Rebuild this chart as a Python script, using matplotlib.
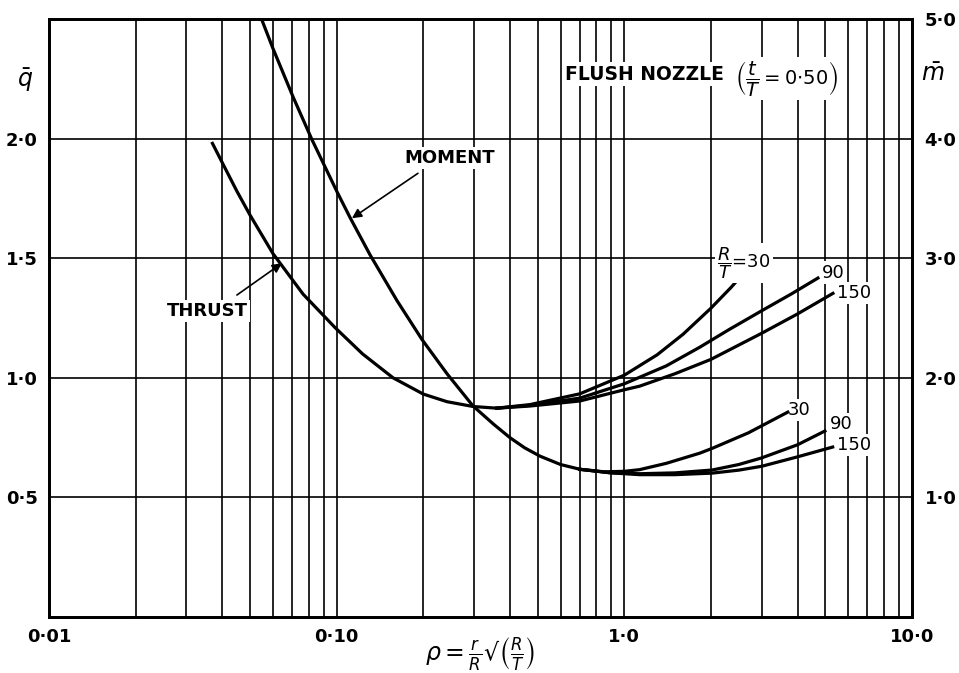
import matplotlib
matplotlib.use("Agg")
import matplotlib.pyplot as plt
from matplotlib.ticker import FixedLocator, NullFormatter

plt.rcParams['font.family'] = ['DejaVu Sans']
plt.rcParams['mathtext.fontset'] = 'dejavusans'

# thrust curve (q-bar, left axis): common part, then the three R/T branches
thrust_rho = [0.037, 0.040, 0.045, 0.050, 0.060, 0.0764, 0.0987, 0.123, 0.157, 0.200, 0.242, 0.298, 0.36]
thrust_q = [1.98, 1.90, 1.78, 1.68, 1.52, 1.35, 1.21, 1.10, 1.00, 0.932, 0.900, 0.880, 0.873]

thrust_30_rho = [0.36, 0.47, 0.70, 1.0, 1.3, 1.6, 2.0, 2.35, 2.73]
thrust_30_q = [0.873, 0.888, 0.933, 1.011, 1.096, 1.182, 1.291, 1.378, 1.466]
thrust_90_rho = [0.36, 0.47, 0.70, 1.0, 1.4, 1.83, 2.3, 3.0, 3.8, 4.71]
thrust_90_q = [0.873, 0.885, 0.915, 0.975, 1.05, 1.128, 1.20, 1.28, 1.35, 1.417]
thrust_150_rho = [0.36, 0.47, 0.70, 1.0, 1.13, 1.5, 2.0, 3.0, 4.0, 5.31]
thrust_150_q = [0.873, 0.882, 0.903, 0.950, 0.965, 1.017, 1.077, 1.186, 1.267, 1.353]

# moment curve (m-bar, right axis)
moment_rho = [0.055, 0.060, 0.0705, 0.0821, 0.1003, 0.1113, 0.1305, 0.1621, 0.198, 0.2417,
              0.2977, 0.35, 0.40, 0.45, 0.509, 0.60, 0.701]
moment_m = [4.99, 4.756, 4.35, 3.99, 3.555, 3.34, 3.03, 2.645, 2.32, 2.035,
            1.765, 1.615, 1.50, 1.415, 1.345, 1.275, 1.235]

moment_30_rho = [0.701, 0.85, 1.0, 1.13, 1.4, 1.83, 2.02, 2.7, 3.70]
moment_30_m = [1.235, 1.214, 1.218, 1.232, 1.285, 1.37, 1.41, 1.54, 1.713]
moment_90_rho = [0.701, 0.891, 1.13, 1.5, 2.02, 2.5, 3.0, 4.0, 4.98]
moment_90_m = [1.235, 1.206, 1.198, 1.205, 1.229, 1.275, 1.33, 1.44, 1.555]
moment_150_rho = [0.701, 0.891, 1.13, 1.5, 2.02, 2.5, 3.0, 3.97, 5.3]
moment_150_m = [1.235, 1.206, 1.19, 1.19, 1.203, 1.228, 1.26, 1.337, 1.421]

x_ticks = [0.01, 0.1, 1.0, 10.0]
x_tick_labels = ['0·01', '0·10', '1·0', '10·0']
q_ticks = [0.5, 1.0, 1.5, 2.0]
q_tick_labels = ['0·5', '1·0', '1·5', '2·0']
m_ticks = [1.0, 2.0, 3.0, 4.0, 5.0]
m_tick_labels = ['1·0', '2·0', '3·0', '4·0', '5·0']

fig = plt.figure(figsize=(9.59, 6.73), dpi=100)
ax = fig.add_axes([49 / 959, 56 / 673, 863 / 959, 598 / 673])
ax2 = ax.twinx()

ax.set_xscale('log')
ax.set_xlim(0.01, 10)
ax.set_ylim(0, 2.5)
ax2.set_ylim(0, 5)

minor = [k * 10.0 ** e for e in (-2, -1, 0) for k in range(2, 10)]
ax.xaxis.set_major_locator(FixedLocator(x_ticks))
ax.xaxis.set_minor_locator(FixedLocator(minor))
ax.xaxis.set_minor_formatter(NullFormatter())
ax.set_xticklabels(x_tick_labels)
ax.set_yticks(q_ticks)
ax.set_yticklabels(q_tick_labels)
ax2.set_yticks(m_ticks)
ax2.set_yticklabels(m_tick_labels)

ax.grid(True, which='both', axis='x', color='black', lw=1.2)
ax.grid(True, which='major', axis='y', color='black', lw=1.2)

ax.tick_params(which='both', length=0, labelsize=13, pad=8)
ax2.tick_params(which='both', length=0, labelsize=13, pad=9)
for lab in ax.get_xticklabels() + ax.get_yticklabels() + ax2.get_yticklabels():
    lab.set_fontweight('bold')
for a in (ax, ax2):
    for s in a.spines.values():
        s.set_linewidth(2)

lw = 2.3
ax.plot(thrust_rho, thrust_q, color='black', lw=lw)
ax.plot(thrust_30_rho, thrust_30_q, color='black', lw=lw)
ax.plot(thrust_90_rho, thrust_90_q, color='black', lw=lw)
ax.plot(thrust_150_rho, thrust_150_q, color='black', lw=lw)
ax2.plot(moment_rho, moment_m, color='black', lw=lw)
ax2.plot(moment_30_rho, moment_30_m, color='black', lw=lw)
ax2.plot(moment_90_rho, moment_90_m, color='black', lw=lw)
ax2.plot(moment_150_rho, moment_150_m, color='black', lw=lw)

box = dict(facecolor='white', edgecolor='none', pad=1.5)
ax.text(0.2476, 1.918, 'MOMENT', fontsize=13, fontweight='bold', ha='center', va='center', bbox=box)
ax.text(0.0354, 1.279, 'THRUST', fontsize=13, fontweight='bold', ha='center', va='center', bbox=box)
ax.annotate('', xy=(0.1130, 1.667), xytext=(0.1917, 1.855),
            arrowprops=dict(arrowstyle='-|>', color='black', lw=1.2, mutation_scale=14,
                            shrinkA=0, shrinkB=0))
ax.annotate('', xy=(0.0645, 1.479), xytext=(0.0450, 1.346),
            arrowprops=dict(arrowstyle='-|>', color='black', lw=1.2, mutation_scale=14,
                            shrinkA=0, shrinkB=0))

ax.text(0.62, 2.27, 'FLUSH NOZZLE', fontsize=13.5, fontweight='bold', ha='left', va='center', bbox=box)
ax.text(2.42, 2.25, r'$\left(\dfrac{t}{T} = 0{\cdot}50\right)$', fontsize=14, ha='left', va='center', bbox=box)

ax.text(2.10, 1.48, r'$\dfrac{R}{T}$=30', fontsize=13, ha='left', va='center', bbox=box)
ax.text(4.86, 1.44, '90', fontsize=13, ha='left', va='center', bbox=box)
ax.text(5.48, 1.355, '150', fontsize=13, ha='left', va='center', bbox=box)
ax.text(3.70, 0.865, '30', fontsize=13, ha='left', va='center', bbox=box)
ax.text(5.18, 0.806, '90', fontsize=13, ha='left', va='center', bbox=box)
ax.text(5.48, 0.719, '150', fontsize=13, ha='left', va='center', bbox=box)

ax.set_xlabel(r'$\rho = \frac{r}{R}$' + '√' + r'$\left(\frac{R}{T}\right)$', fontsize=17, labelpad=-8)
fig.text(25 / 959, 1 - 80 / 673, r'$\bar{q}$', fontsize=17, ha='center', va='center')
fig.text(933 / 959, 1 - 74 / 673, r'$\bar{m}$', fontsize=17, ha='center', va='center')

fig.savefig('out.png', dpi=100)
